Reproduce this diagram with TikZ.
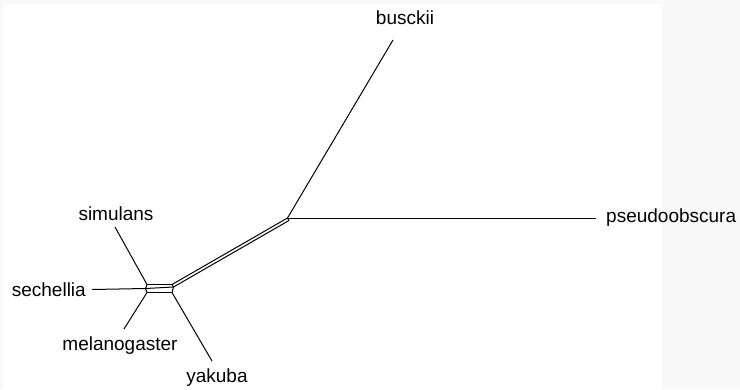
\documentclass[tikz,border=0pt]{standalone}
\usepackage{fontspec}
\setmainfont{Liberation Sans}
\begin{document}
\begin{tikzpicture}[x=1pt,y=-1pt,
  edge/.style={line width=1pt,black,line join=round},
  taxon/.style={font=\fontsize{19}{22}\selectfont,inner sep=0pt,text=black}]
\useasboundingbox (0,0) rectangle (740,389);
\fill[black!2.5] (0,0) rectangle (740,389);
\fill[white] (3,4) rectangle (662,389);
% internal vertices
\coordinate (C1) at (287.5,218);
\coordinate (C2) at (289,220.5);
\coordinate (L1) at (147,284.5);
\coordinate (L2) at (145.5,288.5);
\coordinate (L3) at (147,292.5);
\coordinate (R1) at (172,284.5);
\coordinate (R2) at (173.5,287);
\coordinate (R3) at (172,292.5);
% leaf ends
\coordinate (eB) at (393,40);
\coordinate (eP) at (596,218);
\coordinate (eSi) at (115,227);
\coordinate (eSe) at (92,289.5);
\coordinate (eM) at (124,329);
\coordinate (eY) at (212,361);
% labels
\node[taxon] (tB) at (405,18) {busckii};
\node[taxon,anchor=west] (tP) at (606,218) {pseudoobscura};
\node[taxon] (tSi) at (116,214) {simulans};
\node[taxon,anchor=east] (tSe) at (86,290) {sechellia};
\node[taxon] (tM) at (120,346) {melanogaster};
\node[taxon] (tY) at (217,378) {yakuba};
% edges
\draw[edge] (C1) -- (eB);
\draw[edge] (C1) -- (eP);
\draw[edge] (C1) -- (C2);
\draw[edge] (R1) -- (C1);
\draw[edge] (R2) -- (C2);
\draw[edge] (R1) -- (R2) -- (R3);
\draw[edge] (L1) -- (L2) -- (L3);
\draw[edge] (L1) -- (R1);
\draw[edge] (L2) -- (R2);
\draw[edge] (L3) -- (R3);
\draw[edge] (L1) -- (eSi);
\draw[edge] (L2) -- (eSe);
\draw[edge] (L3) -- (eM);
\draw[edge] (R3) -- (eY);
\end{tikzpicture}
\end{document}
